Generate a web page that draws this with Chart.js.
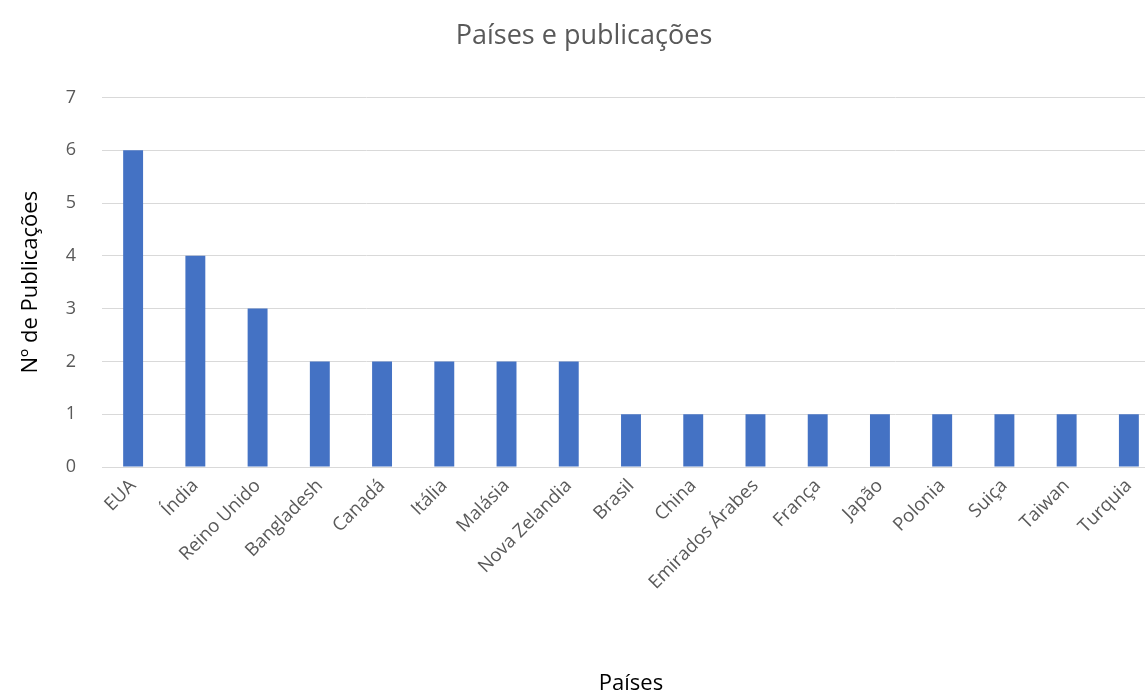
<!DOCTYPE html>
<html lang="pt">
<head>
  <meta charset="UTF-8">
  <title>Países e publicações</title>
  <script src="https://cdn.jsdelivr.net/npm/chart.js"></script>
</head>
<body style="margin:0;background:#fff;overflow:hidden;">
  <div style="width:1160px;height:699px;position:relative;">
    <canvas id="paisesChart"></canvas>
  </div>
  <script>
    // dados
    const paises = ['EUA', 'Índia', 'Reino Unido', 'Bangladesh', 'Canadá', 'Itália', 'Malásia',
      'Nova Zelandia', 'Brasil', 'China', 'Emirados Árabes', 'França', 'Japão', 'Polonia',
      'Suiça', 'Taiwan', 'Turquia'];
    const publicacoes = [6, 4, 3, 2, 2, 2, 2, 2, 1, 1, 1, 1, 1, 1, 1, 1, 1];
    const yTicks = [0, 1, 2, 3, 4, 5, 6, 7];

    const font = "'Open Sans', 'Noto Sans', sans-serif";

    const ctx = document.getElementById('paisesChart').getContext('2d');
    new Chart(ctx, {
      type: 'bar',
      data: {
        labels: paises,
        datasets: [{
          label: 'Nº de Publicações',
          data: publicacoes,
          backgroundColor: '#4472C4',
          barPercentage: 0.64,
          categoryPercentage: 0.5
        }]
      },
      options: {
        responsive: true,
        maintainAspectRatio: false,
        animation: false,
        layout: { padding: { top: 20, left: 8, right: 0, bottom: 2 } },
        plugins: {
          legend: { display: false },
          tooltip: { enabled: false },
          title: {
            display: true,
            text: 'Países e publicações',
            color: '#595959',
            font: { family: font, size: 27, weight: 'normal' },
            padding: { top: 0, bottom: 45 }
          }
        },
        scales: {
          x: {
            grid: { display: false },
            border: { color: '#d9d9d9', width: 1 },
            ticks: {
              color: '#595959',
              font: { family: font, size: 18.5 },
              minRotation: 45,
              maxRotation: 45,
              autoSkip: false,
              padding: 0
            },
            title: {
              display: true,
              text: 'Países',
              color: '#000',
              font: { family: font, size: 22 },
              padding: { top: 6, bottom: 0 }
            },
            afterFit: function (axis) { axis.height = 232 - 2; }
          },
          y: {
            min: 0,
            max: 7,
            afterBuildTicks: function (axis) {
              axis.ticks = yTicks.map(v => ({ value: v }));
            },
            grid: { color: '#d9d9d9', drawTicks: false },
            border: { display: false },
            ticks: {
              color: '#595959',
              font: { family: font, size: 18 },
              padding: 26
            },
            title: {
              display: true,
              text: 'Nº de Publicações',
              color: '#000',
              font: { family: font, size: 22 },
              padding: { top: 10, bottom: 8 }
            },
            afterFit: function (axis) { axis.width = 102 - 8; }
          }
        }
      }
    });
  </script>
</body>
</html>
